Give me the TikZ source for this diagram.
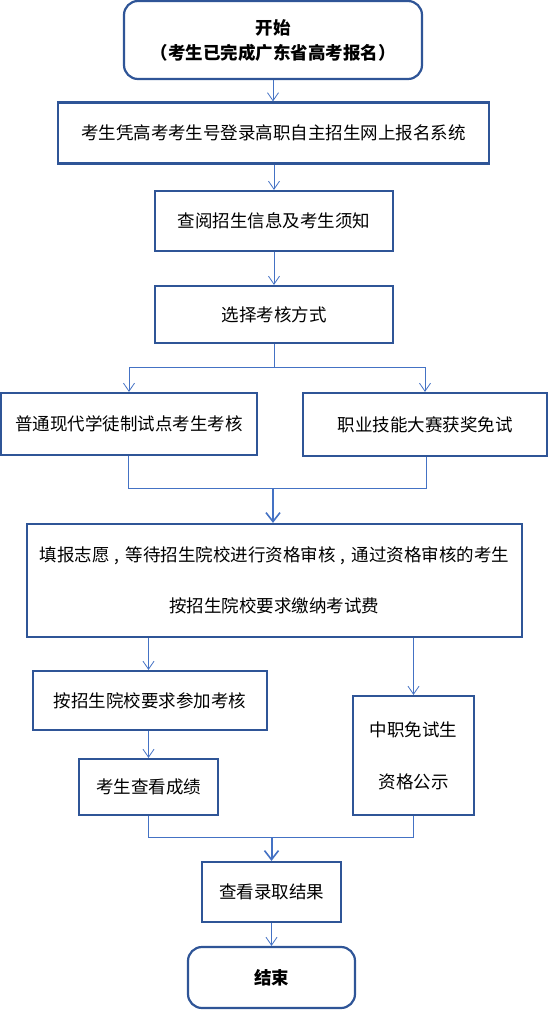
\documentclass[tikz,border=0pt]{standalone}
\usepackage{fontspec}
\setmainfont{Noto Sans CJK SC}
\usetikzlibrary{arrows.meta}
\definecolor{boxc}{HTML}{2F5597}
\definecolor{linec}{HTML}{4472C4}
\begin{document}
\begin{tikzpicture}[x=1pt,y=-1pt,
  box/.style={draw=boxc, line width=2.2pt, fill=white, inner sep=0pt, font=\fontsize{17.5}{20}\selectfont, align=center, text=black},
  rbox/.style={box, rounded corners=14pt},
  conn/.style={draw=linec, line width=1pt},
  arr/.style={conn, -{Straight Barb[length=8pt,width=11pt,line width=0.8pt]}},
  tarr/.style={draw=linec, line width=2pt, -{Straight Barb[length=9pt,width=14pt,line width=1.6pt]}},
]
\useasboundingbox (0,0) rectangle (549,1010);
\node[rbox, minimum width=298pt, minimum height=78pt] (start) at (273,40) {\bfseries 开始\\[5pt]\bfseries （考生已完成广东省高考报名）};
\node[box, minimum width=431pt, minimum height=61pt] (b2) at (273.5,133) {考生凭高考考生号登录高职自主招生网上报名系统};
\node[box, minimum width=238pt, minimum height=60pt] (b3) at (274,221) {查阅招生信息及考生须知};
\node[box, minimum width=238pt, minimum height=57pt] (b4) at (274,314.5) {选择考核方式};
\node[box, minimum width=256pt, minimum height=62pt] (b5) at (129,424) {普通现代学徒制试点考生考核};
\node[box, minimum width=244pt, minimum height=63pt] (b6) at (425,424.5) {职业技能大赛获奖免试};
\node[box, minimum width=495pt, minimum height=113pt] (b7) at (274.5,580.5) {填报志愿\hspace{5pt},\hspace{6pt}等待招生院校进行资格审核\hspace{5pt},\hspace{6pt}通过资格审核的考生\\[31pt]按招生院校要求缴纳考试费};
\node[box, minimum width=234pt, minimum height=59pt] (b8) at (150,700.5) {按招生院校要求参加考核};
\node[box, minimum width=139pt, minimum height=56pt] (b9) at (148.5,787) {考生查看成绩};
\node[box, minimum width=121pt, minimum height=119pt] (b10) at (413.5,755.5) {中职免试生\\[32pt]资格公示};
\node[box, minimum width=139pt, minimum height=60pt] (b11) at (271.5,892) {查看录取结果};
\node[rbox, minimum width=167pt, minimum height=61pt] (end) at (271.5,977.5) {\bfseries 结束};

\coordinate (brL) at (129,367);
\coordinate (brR) at (425,367);
\coordinate (mL) at (128,488);
\coordinate (mR) at (426,488);
\coordinate (mC) at (273,488);
\coordinate (nL) at (148.5,837);
\coordinate (nR) at (413.5,837);
\coordinate (nC) at (271.5,837);

\draw[arr] (start.south) -- (start.south |- b2.north);
\draw[arr] (b3.north |- b2.south) -- (b3.north);
\draw[arr] (b3.south) -- (b4.north);
\draw[conn] (b4.south) -- (b4.south |- brL);
\draw[conn] (brL) -- (brR);
\draw[arr] (brL) -- (brL |- b5.north);
\draw[arr] (brR) -- (brR |- b6.north);
\draw[conn] (mL |- b5.south) -- (mL) -- (mR) -- (mR |- b6.south);
\draw[tarr] (mC) -- (mC |- b7.north);
\draw[arr] (b9.north |- b7.south) -- (b9.north |- b8.north);
\draw[arr] (b10.north |- b7.south) -- (b10.north);
\draw[arr] (b9.north |- b8.south) -- (b9.north);
\draw[conn] (b9.south) -- (nL) -- (nR) -- (b10.south);
\draw[tarr] (nC) -- (b11.north);
\draw[arr] (b11.south) -- (end.north);
\end{tikzpicture}
\end{document}
